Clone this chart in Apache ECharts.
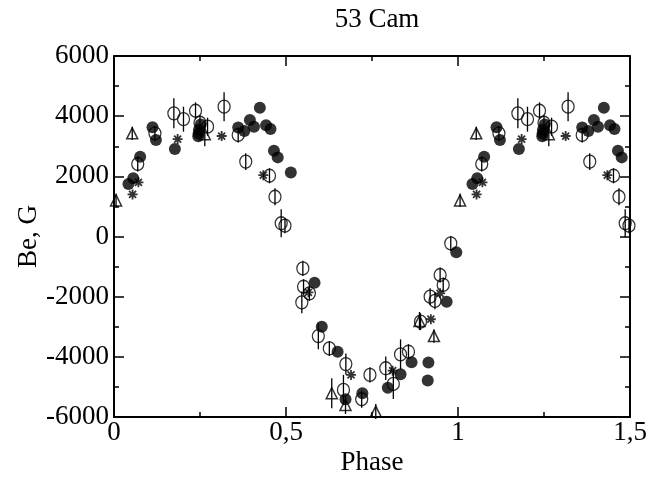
<!DOCTYPE html>
<html><head><meta charset="utf-8">
<script src="https://cdn.jsdelivr.net/npm/echarts@6/dist/echarts.min.js"></script>
<style>html,body{margin:0;padding:0;background:#fff}#c{width:651px;height:479px}</style>
</head><body><div id="c"></div>
<script>
// Phase, Be (G) for phase 0..1; points with phase <= 0.5 are repeated at phase+1
var filledPts = [[0.042,1745],[0.056,1935],[0.076,2650],[0.112,3630],[0.122,3210],[0.177,2910],
  [0.252,3720],[0.247,3550],[0.246,3420],[0.245,3330],[0.361,3620],[0.379,3510],[0.395,3870],
  [0.407,3650],[0.424,4280],[0.442,3700],[0.455,3570],[0.465,2850],[0.476,2630],[0.514,2130],
  [0.583,-1535],[0.604,-3000],[0.650,-3830],[0.673,-5410],[0.722,-5210],[0.796,-5030],
  [0.833,-4580],[0.865,-4180],[0.914,-4190],[0.912,-4790],[0.967,-2170],[0.995,-525]];
// phase, Be, error
var openPts = [[0.069,2410,250],[0.119,3430,250],[0.174,4095,500],[0.202,3900,415],[0.237,4180,280],
  [0.250,3780,250],[0.272,3650,300],[0.320,4315,480],[0.361,3375,250],[0.383,2490,280],
  [0.452,2020,250],[0.468,1320,280],[0.486,440,465],[0.497,360,250],[0.546,-2190,360],
  [0.549,-1060,250],[0.551,-1670,250],[0.568,-1890,250],[0.594,-3310,440],[0.626,-3720,250],
  [0.667,-5100,500],[0.674,-4240,350],[0.720,-5410,280],[0.744,-4600,250],[0.790,-4380,390],
  [0.812,-4900,500],[0.833,-3920,500],[0.856,-3830,250],[0.891,-2830,280],[0.919,-2000,280],
  [0.933,-2140,280],[0.948,-1280,250],[0.957,-1610,250],[0.979,-230,250]];
var starPts = [[0.054,1400],[0.071,1800],[0.185,3240],[0.313,3340],[0.434,2040],[0.565,-1855],
  [0.689,-4600],[0.810,-4460],[0.921,-2750],[0.948,-1890]];
var triPts = [[0.006,1200,220],[0.053,3430,220],[0.264,3400,400],[0.633,-5210,500],
  [0.673,-5600,300],[0.761,-5820,250],[0.888,-2810,300],[0.930,-3310,220]];
var xTicks = ['0','0,5','1','1,5'];
var titleText = '53 Cam', xName = 'Phase', yName = 'Be, G';

function rep(a){
  var out = a.slice();
  a.forEach(function(p){ if (p[0] <= 0.5) { var q = p.slice(); q[0] = p[0] + 1; out.push(q); } });
  return out;
}
var F = rep(filledPts), O = rep(openPts), S = rep(starPts), T = rep(triPts);
var errs = O.concat(T);

var font = 'Liberation Serif';
var fs = 27;
var chart = echarts.init(document.getElementById('c'), null, {renderer:'canvas'});
var axLine = {show:true, onZero:false, lineStyle:{color:'#000', width:2}};
function xAx(pos, labels){
  return {type:'value', position:pos, min:0, max:1.5, interval:0.5,
    axisLine:axLine, axisTick:{show:true, inside:true, length:10, lineStyle:{color:'#000', width:1.5}},
    minorTick:{show:true, splitNumber:2, length:5, lineStyle:{color:'#000', width:1.5}},
    splitLine:{show:false},
    axisLabel:{show:labels, margin:2, color:'#000', fontFamily:font, fontSize:fs,
      formatter:function(v){ return xTicks[Math.round(v/0.5)]; }},
    name: labels ? xName : '', nameLocation:'middle', nameGap:32, nameMoveOverlap:false,
    nameTextStyle:{color:'#000', fontFamily:font, fontSize:fs}};
}
function yAx(pos, labels){
  return {type:'value', position:pos, min:-6000, max:6000, interval:2000,
    axisLine:axLine, axisTick:{show:true, inside:true, length:10, lineStyle:{color:'#000', width:1.5}},
    minorTick:{show:true, splitNumber:2, length:5, lineStyle:{color:'#000', width:1.5}},
    splitLine:{show:false},
    axisLabel:{show:labels, margin:5, color:'#000', fontFamily:font, fontSize:fs,
      formatter:function(v){ return String(v); }},
    name: labels ? yName : '', nameLocation:'middle', nameGap:72, nameRotate:90, nameMoveOverlap:false,
    nameTextStyle:{color:'#000', fontFamily:font, fontSize:fs}};
}
var star = 'path://M0,5L10,5M5,0L5,10M1.5,1.5L8.5,8.5M8.5,1.5L1.5,8.5';
chart.setOption({
  animation:false,
  title:{text:titleText, left:372, top:1, textAlign:'center',
    textStyle:{fontFamily:font, fontSize:fs, fontWeight:'normal', color:'#000'}},
  grid:{left:114, right:21, top:56, bottom:62, containLabel:false, outerBoundsMode:'none'},
  xAxis:[xAx('bottom', true), xAx('top', false)],
  yAxis:[yAx('left', true), yAx('right', false)],
  series:[
    {type:'custom', data:errs, z:1, silent:true,
     renderItem:function(params, api){
       var x = api.value(0), y = api.value(1), e = api.value(2);
       var a = api.coord([x, y - e]), b = api.coord([x, y + e]);
       return {type:'line', shape:{x1:a[0], y1:a[1], x2:b[0], y2:b[1]},
         style:{stroke:'#000', lineWidth:1.3}};
     }},
    {type:'scatter', data:O, z:3, symbol:'circle', symbolSize:[12,13],
     itemStyle:{color:'rgba(0,0,0,0)', borderColor:'#000', borderWidth:1.3}},
    {type:'scatter', data:T, z:3, symbol:'triangle', symbolSize:[11,11],
     itemStyle:{color:'rgba(0,0,0,0)', borderColor:'#000', borderWidth:1.5}},
    {type:'scatter', data:S, z:4, symbol:star, symbolSize:10,
     itemStyle:{color:'none', borderColor:'#000', borderWidth:1.8}},
    {type:'scatter', data:F, z:5, symbol:'circle', symbolSize:12,
     itemStyle:{color:'#000', borderColor:'#000', borderWidth:0}}
  ]
});
</script></body></html>
